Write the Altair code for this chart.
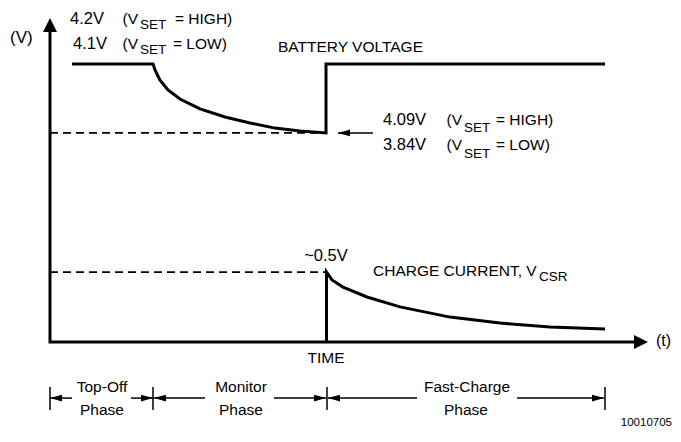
import altair as alt
import pandas as pd

# ---- schematic data (time units, signal-level units) ----
# Battery voltage trace
bat_t = [0.22, 1.03, 1.05, 1.10, 1.18, 1.30, 1.50, 1.75, 2.00, 2.25, 2.50, 2.76, 2.76, 5.55]
bat_v = [9.27, 9.27, 9.07, 8.73, 8.40, 8.10, 7.77, 7.50, 7.30, 7.13, 7.03, 6.97, 9.27, 9.27]

# Charge current (V_CSR) trace
cur_t = [2.765, 2.765, 2.82, 2.93, 3.17, 3.50, 4.00, 4.50, 5.00, 5.55]
cur_v = [0.00, 2.33, 2.07, 1.83, 1.50, 1.17, 0.83, 0.63, 0.50, 0.43]

# Axes (drawn as polyline: y axis top -> origin -> x axis end)
axis_t = [0.0, 0.0, 5.90]
axis_v = [10.5, 0.0, 0.0]

# Dashed reference levels
ref_t0 = [0.0, 0.0]
ref_t1 = [2.76, 2.765]
ref_v = [6.97, 2.33]

# Phase boundaries and dimension lines
phase_bounds = [0.0, 1.03, 2.77, 5.55]
phase_bar_top = -1.50
phase_bar_bot = -2.27
phase_line_v = -1.87
dim_t0 = [0.00, 0.81, 1.04, 2.24, 2.78, 4.67]
dim_t1 = [0.22, 1.03, 1.55, 2.76, 3.67, 5.54]
dim_tip = [0.00, 1.03, 1.04, 2.76, 2.78, 5.54]
dim_dir = ["left", "right", "left", "right", "left", "right"]

# Pointer arrow to the 4.09V / 3.84V level
ptr_t0, ptr_t1, ptr_v = 2.88, 3.23, 6.97

# Texts
txt_left = ["(V)", "4.2V", "SET", "= HIGH)", "4.1V", "SET", "= LOW)", "BATTERY VOLTAGE",
            "4.09V", "SET", "= HIGH)", "3.84V", "SET", "= LOW)",
            "CHARGE CURRENT, V", "CSR", "(t)"]
txt_left_t = [-0.40, 0.20, 0.90, 1.25, 0.23, 0.90, 1.23, 2.28,
              3.33, 4.14, 4.46, 3.33, 4.14, 4.46, 3.23, 4.89, 6.06]
txt_left_v = [10.12, 10.77, 10.55, 10.77, 9.93, 9.72, 9.93, 9.83,
              7.40, 7.13, 7.40, 6.57, 6.27, 6.57, 2.37, 2.15, 0.03]
txt_left_fs = [17, 16.5, 13.5, 15.5, 16.5, 13.5, 15.5, 15.5,
               16.5, 13.5, 15.5, 16.5, 13.5, 15.5, 15.5, 13.5, 16]

txt_right = ["(V", "(V", "(V", "(V"]
txt_right_t = [0.88, 0.88, 4.12, 4.12]
txt_right_v = [10.77, 9.93, 7.40, 6.57]

txt_center = ["~0.5V", "TIME", "Top-Off", "Phase", "Monitor", "Phase", "Fast-Charge", "Phase"]
txt_center_t = [2.76, 2.76, 0.52, 0.52, 1.91, 1.91, 4.17, 4.16]
txt_center_v = [2.85, -0.55, -1.50, -2.27, -1.50, -2.27, -1.50, -2.27]
txt_center_fs = [16.5, 15.5, 15.5, 15.5, 15.5, 15.5, 15.5, 15.5]

fig_id = "10010705"

# ---- build tables ----
thick = pd.DataFrame(
    [{"s": "battery", "o": i, "t": t, "v": v} for i, (t, v) in enumerate(zip(bat_t, bat_v))]
    + [{"s": "current", "o": i, "t": t, "v": v} for i, (t, v) in enumerate(zip(cur_t, cur_v))]
    + [{"s": "axes", "o": i, "t": t, "v": v} for i, (t, v) in enumerate(zip(axis_t, axis_v))]
)
dashed = pd.DataFrame({"t": ref_t0, "t2": ref_t1, "v": ref_v})

thin_rows = [{"t": b, "t2": b, "v": phase_bar_top, "v2": phase_bar_bot} for b in phase_bounds]
thin_rows += [{"t": a, "t2": b, "v": phase_line_v, "v2": phase_line_v} for a, b in zip(dim_t0, dim_t1)]
thin_rows += [{"t": ptr_t0, "t2": ptr_t1, "v": ptr_v, "v2": ptr_v}]
thin = pd.DataFrame(thin_rows)

heads = pd.DataFrame({"t": dim_tip + [ptr_t0, 0.0, 5.98],
                      "v": [phase_line_v] * len(dim_tip) + [ptr_v, 10.8, 0.0],
                      "d": dim_dir + ["left", "up", "bigright"],
                      "big": [False] * (len(dim_tip) + 1) + [True, True]})

tl = pd.DataFrame({"txt": txt_left, "t": txt_left_t, "v": txt_left_v, "fs": txt_left_fs})
tr = pd.DataFrame({"txt": txt_right + [fig_id], "t": txt_right_t + [6.22],
                   "v": txt_right_v + [-2.70], "fs": [15.5] * 4 + [11.5]})
tc = pd.DataFrame({"txt": txt_center, "t": txt_center_t, "v": txt_center_v, "fs": txt_center_fs})

# ---- scales ----
W, H = 665, 426
xs = alt.Scale(domain=[-0.42, -0.42 + W / 100], nice=False, zero=False)
ys = alt.Scale(domain=[-3.0667, -3.0667 + H / 30], nice=False, zero=False)
X = lambda f="t": alt.X(f"{f}:Q", scale=xs, axis=None)
Y = lambda f="v": alt.Y(f"{f}:Q", scale=ys, axis=None)

FONT = "Liberation Sans"

thick_layer = alt.Chart(thick).mark_line(color="black", strokeWidth=3, strokeJoin="miter").encode(
    x=X(), y=Y(), detail="s:N", order="o:Q")

dashed_layer = alt.Chart(dashed).mark_rule(color="black", strokeWidth=1.6, strokeDash=[8, 5]).encode(
    x=X(), x2="t2:Q", y=Y())

thin_layer = alt.Chart(thin).mark_rule(color="black", strokeWidth=1.5).encode(
    x=X(), x2="t2:Q", y=Y(), y2="v2:Q")

head_shapes = alt.Scale(domain=["left", "right", "up", "bigright"],
                        range=["M0,0L2,-0.55L2,0.55Z", "M0,0L-2,-0.55L-2,0.55Z",
                               "M0,0L-1,2L1,2Z", "M0,0L-2,-1L-2,1Z"])

small_head_layer = alt.Chart(heads).transform_filter("!datum.big").mark_point(
    filled=True, color="black", opacity=1, size=144, strokeWidth=0).encode(
    x=X(), y=Y(), shape=alt.Shape("d:N", legend=None, scale=head_shapes))

big_head_layer = alt.Chart(heads).transform_filter("datum.big").mark_point(
    filled=True, color="black", opacity=1, size=196, strokeWidth=0).encode(
    x=X(), y=Y(), shape=alt.Shape("d:N", legend=None, scale=head_shapes))

def text_layer(df, align, font=FONT):
    return alt.Chart(df).mark_text(align=align, baseline="middle", font=font, color="black").encode(
        x=X(), y=Y(), text="txt:N", size=alt.Size("fs:Q", scale=None, legend=None))

chart = alt.layer(
    dashed_layer, thin_layer, thick_layer, small_head_layer, big_head_layer,
    text_layer(tl, "left"), text_layer(tr, "right"), text_layer(tc, "center"),
).properties(
    width=W, height=H, padding=0, autosize="none", background="white"
).configure_view(strokeWidth=0)

chart.save("out.html", embed_options={"renderer": "svg", "actions": False})
